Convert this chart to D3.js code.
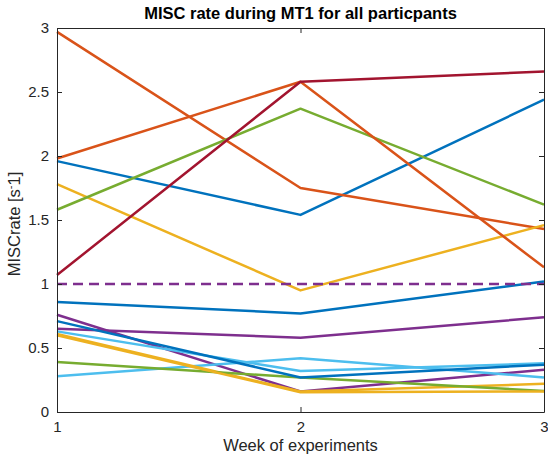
<!DOCTYPE html>
<html>
<head>
<meta charset="utf-8">
<script src="https://cdn.jsdelivr.net/npm/d3@7"></script>
<style>
  html, body { margin: 0; padding: 0; background: #fff; }
  svg { display: block; font-family: "Liberation Sans", Arial, Helvetica, sans-serif; }
</style>
</head>
<body>
<svg id="chart" width="548" height="465"></svg>
<script>
// Weeks on the x axis
const weeks = [1, 2, 3];

// MISC rate per participant for weeks 1..3
const p01 = [1.96, 1.54, 2.44];
const p02 = [2.97, 1.75, 1.43];
const p03 = [1.78, 0.95, 1.46];
const p04 = [0.76, 0.16, 0.33];
const p05 = [1.58, 2.37, 1.62];
const p06 = [0.28, 0.42, 0.27];
const p07 = [0.86, 0.77, 1.02];
const p08 = [1.98, 2.58, 1.13];
const p09 = [0.61, 0.16, 0.22];
const p10 = [0.65, 0.58, 0.74];
const p11 = [0.39, 0.27, 0.165];
const p12 = [0.63, 0.32, 0.38];
const p13 = [0.71, 0.27, 0.37];
const p14 = [0.60, 0.155, 0.16];
const p15 = [1.07, 2.58, 2.66];

// Threshold line
const threshold = [1, 1, 1];

// Axis ticks
const xTicks = [1, 2, 3];
const yTicks = [0, 0.5, 1, 1.5, 2, 2.5, 3];
const yTickLabels = ["0", "0.5", "1", "1.5", "2", "2.5", "3"];

// Default line colour cycle
const palette = ["#0072BD", "#D95319", "#EDB120", "#7E2F8E", "#77AC30", "#4DBEEE", "#A2142F"];

const series = [
  { values: p01, color: palette[0] },
  { values: p02, color: palette[1] },
  { values: p03, color: palette[2] },
  { values: p04, color: palette[3] },
  { values: p05, color: palette[4] },
  { values: p06, color: palette[5] },
  { values: p07, color: palette[0] },
  { values: p08, color: palette[1] },
  { values: p09, color: palette[2] },
  { values: p10, color: palette[3] },
  { values: p11, color: palette[4] },
  { values: p12, color: palette[5] },
  { values: p13, color: palette[0] },
  { values: p14, color: palette[2] },
  { values: p15, color: palette[6] }
];

const svg = d3.select("#chart");
const plotLeft = 57, plotRight = 544, plotTop = 28, plotBottom = 412;

const x = d3.scaleLinear().domain([1, 3]).range([plotLeft, plotRight]);
const y = d3.scaleLinear().domain([0, 3]).range([plotBottom, plotTop]);

const axisColor = "#262626";
const tickLen = 5;
const fontStack = "'Liberation Sans', Arial, Helvetica, sans-serif";

// Data lines
const line = d3.line()
  .x((d, i) => x(weeks[i]))
  .y(d => y(d));

const plot = svg.append("g");
series.forEach(s => {
  plot.append("path")
    .datum(s.values)
    .attr("d", line)
    .attr("fill", "none")
    .attr("stroke", s.color)
    .attr("stroke-width", 2.5)
    .attr("stroke-linejoin", "round");
});

plot.append("path")
  .datum(threshold)
  .attr("d", line)
  .attr("fill", "none")
  .attr("stroke", palette[3])
  .attr("stroke-width", 2.5)
  .attr("stroke-dasharray", "10,6");

// Axes: bottom and left with labels, top and right as bare box edges
const axBottom = d3.axisBottom(x).tickValues(xTicks).tickFormat(d3.format("d"))
  .tickSizeInner(-tickLen).tickSizeOuter(0).tickPadding(9);
const axLeft = d3.axisLeft(y).tickValues(yTicks).tickFormat((d, i) => yTickLabels[i])
  .tickSizeInner(-tickLen).tickSizeOuter(0).tickPadding(8);
const axTop = d3.axisTop(x).tickValues(xTicks).tickFormat("")
  .tickSizeInner(-tickLen).tickSizeOuter(0);
const axRight = d3.axisRight(y).tickValues(yTicks).tickFormat("")
  .tickSizeInner(-tickLen).tickSizeOuter(0);

function styleAxis(g) {
  g.select(".domain").attr("stroke", axisColor).attr("stroke-width", 1);
  g.selectAll(".tick line").attr("stroke", axisColor).attr("stroke-width", 1);
  g.selectAll(".tick text").attr("fill", axisColor).attr("font-size", 15)
    .attr("font-family", fontStack);
}

svg.append("g").attr("transform", `translate(0,${plotBottom})`).call(axBottom).call(styleAxis);
svg.append("g").attr("transform", `translate(${plotLeft},0)`).call(axLeft).call(styleAxis);
svg.append("g").attr("transform", `translate(0,${plotTop})`).call(axTop).call(styleAxis);
svg.append("g").attr("transform", `translate(${plotRight},0)`).call(axRight).call(styleAxis);

// Title
svg.append("text")
  .attr("x", (plotLeft + plotRight) / 2)
  .attr("y", 19)
  .attr("text-anchor", "middle")
  .attr("font-size", 16.5)
  .attr("font-weight", "bold")
  .attr("fill", "#000")
  .text("MISC rate during MT1 for all particpants");

// X axis label
svg.append("text")
  .attr("x", (plotLeft + plotRight) / 2)
  .attr("y", 451)
  .attr("text-anchor", "middle")
  .attr("font-size", 16.5)
  .attr("fill", axisColor)
  .text("Week of experiments");

// Y axis label with superscript minus
const yl = svg.append("text")
  .attr("transform", `translate(20,${(plotTop + plotBottom) / 2 + 4}) rotate(-90)`)
  .attr("text-anchor", "middle")
  .attr("font-size", 16.5)
  .attr("fill", axisColor);
yl.append("tspan").text("MISCrate [s");
yl.append("tspan").attr("dy", -6).attr("font-size", 11).text("-");
yl.append("tspan").attr("dy", 6).text("1]");
</script>
</body>
</html>
